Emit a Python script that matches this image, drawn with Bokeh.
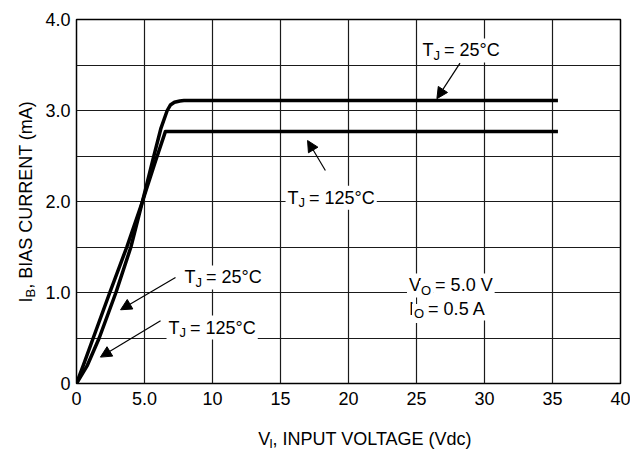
import math
from bokeh.plotting import figure
from bokeh.layouts import row, column
from bokeh.models import FixedTicker, Label, Arrow, NormalHead, Range1d
from bokeh.core.properties import value
from bokeh.embed import file_html
from bokeh.resources import INLINE

# ---- data ----
v_25 = [0, 0.8, 1.67, 2.9, 4.0, 4.85, 5.6, 6.2, 6.67, 6.9, 7.2, 7.6, 7.9, 35.4]
ib_25 = [0, 0.2, 0.5, 1.0, 1.5, 2.0, 2.45, 2.8, 3.0, 3.06, 3.09, 3.105, 3.11, 3.11]
v_125 = [0, 0.5, 1.23, 2.45, 3.7, 4.85, 5.8, 6.54, 35.4]
ib_125 = [0, 0.2, 0.5, 1.0, 1.5, 2.0, 2.44, 2.77, 2.77]

x_ticks = [0, 5, 10, 15, 20, 25, 30, 35, 40]
x_tick_labels = ["0", "5.0", "10", "15", "20", "25", "30", "35", "40"]
y_ticks = [0, 1, 2, 3, 4]
y_tick_labels = ["0", "1.0", "2.0", "3.0", "4.0"]
x_grid = [5, 10, 15, 20, 25, 30, 35]
y_grid = [0.5, 1.0, 1.5, 2.0, 2.5, 3.0, 3.5]

# annotation texts: (x, baseline y, main, sub, rest)
notes = [
    (25.3, 3.66, "T", "J", "= 25°C"),
    (15.37, 2.04, "T", "J", "= 125°C"),
    (7.8, 1.165, "T", "J", "= 25°C"),
    (6.62, 0.615, "T", "J", "= 125°C"),
    (24.3, 1.077, "V", "O", "= 5.0 V"),
    (24.3, 0.824, "I", "O", "= 0.5 A"),
]
# arrows: (x_tail, y_tail, x_tip, y_tip)
arrows = [
    (28.2, 3.52, 26.5, 3.13),
    (18.3, 2.34, 16.99, 2.67),
    (7.28, 1.165, 3.24, 0.81),
    (6.18, 0.69, 1.76, 0.29),
]
x_title = ("V", "I", ", INPUT VOLTAGE (Vdc)")
y_title = ("I", "B", ", BIAS CURRENT (mA)")

FONT = "Liberation Sans"
FS = 18
SFS = 13
SPACE = 0.278 * FS
W = {"T": 0.611, "J": 0.5, "V": 0.667, "I": 0.278, "O": 0.778, "B": 0.667}

YW = 40          # width of y-title strip
MW = 630 - YW    # main figure width
MH = 412         # main figure height
XH = 452 - MH    # x-title strip height

p = figure(width=MW, height=MH, output_backend="svg", toolbar_location=None,
           x_range=Range1d(0, 40), y_range=Range1d(0, 4),
           min_border_left=76 - YW, min_border_right=MW - (76 - YW) - 544,
           min_border_top=19, min_border_bottom=MH - 19 - 364)
p.background_fill_color = "white"
p.border_fill_color = "white"
p.outline_line_color = "black"
p.outline_line_width = 1.5

for ax in (p.xaxis[0], p.yaxis[0]):
    ax.axis_line_color = None
    ax.major_tick_line_color = None
    ax.minor_tick_line_color = None
    ax.major_label_text_font = FONT
    ax.major_label_text_font_size = f"{FS}px"
    ax.major_label_text_color = "black"
    ax.major_tick_in = 0
    ax.major_tick_out = 0

p.xaxis.ticker = FixedTicker(ticks=x_ticks)
p.xaxis.major_label_overrides = dict(zip(x_ticks, x_tick_labels))
p.xaxis.major_label_standoff = 8
p.yaxis.ticker = FixedTicker(ticks=y_ticks)
p.yaxis.major_label_overrides = dict(zip(y_ticks, y_tick_labels))
p.yaxis.major_label_standoff = 6

p.xgrid.ticker = FixedTicker(ticks=x_grid)
p.ygrid.ticker = FixedTicker(ticks=y_grid)
for g in (p.xgrid[0], p.ygrid[0]):
    g.grid_line_color = "#1a1a1a"
    g.grid_line_width = 1.2
    g.grid_line_alpha = 1.0

p.line(v_25, ib_25, line_color="black", line_width=3.5, line_join="round")
p.line(v_125, ib_125, line_color="black", line_width=3.5, line_join="round")

for xt, yt, xe, ye in arrows:
    p.add_layout(Arrow(x_start=xt, y_start=yt, x_end=xe, y_end=ye,
                       line_color="black", line_width=1.2,
                       end=NormalHead(size=11, fill_color="black", line_color="black")))


def lab(x, y, text, size, xo=0, yo=0):
    p.add_layout(Label(x=x, y=y, text=text, x_offset=xo, y_offset=yo,
                       text_font=FONT, text_font_size=f"{size}px", text_color="black",
                       text_align="left", text_baseline="alphabetic",
                       background_fill_color="white", padding=2))


for x, y, main, sub, rest in notes:
    w1 = W[main] * FS
    w2 = W[sub] * SFS
    lab(x, y, main, FS)
    lab(x, y, rest, FS, xo=w1 + w2 + SPACE * 0.8)
    lab(x, y, sub, SFS, xo=w1, yo=-5)


def strip(w, h):
    f = figure(width=w, height=h, output_backend="svg", toolbar_location=None,
               x_range=Range1d(0, w), y_range=Range1d(0, h),
               x_axis_type=None, y_axis_type=None, min_border=0)
    f.outline_line_color = None
    f.background_fill_color = "white"
    f.border_fill_color = "white"
    return f


# x-axis title strip
xf = strip(MW, XH)
m, s, r = x_title
x0 = 237 - YW
base = 14
xs = [x0, x0 + W[m] * FS, x0 + W[m] * FS + W[s] * SFS]
for xx, yy, t, fs in zip(xs, [base, base - 5, base], [m, s, r], [FS, SFS, FS]):
    xf.text(x=[xx], y=[yy], text=[t], text_font=value(FONT),
            text_font_size=value(f"{fs}px"), text_color="black",
            text_align="left", text_baseline="alphabetic")

# y-axis title strip (rotated)
yf = strip(YW, 452)
m, s, r = y_title
y0 = 150
bx = 25
ys = [y0, y0 + W[m] * FS, y0 + W[m] * FS + W[s] * SFS]
for xx, yy, t, fs in zip([bx, bx + 5, bx], ys, [m, s, r], [FS, SFS, FS]):
    yf.text(x=[xx], y=[yy], text=[t], angle=math.pi / 2, text_font=value(FONT),
            text_font_size=value(f"{fs}px"), text_color="black",
            text_align="left", text_baseline="alphabetic")

layout = row(yf, column(p, xf, spacing=0), spacing=0)
open("out.html", "w").write(file_html(layout, INLINE))
